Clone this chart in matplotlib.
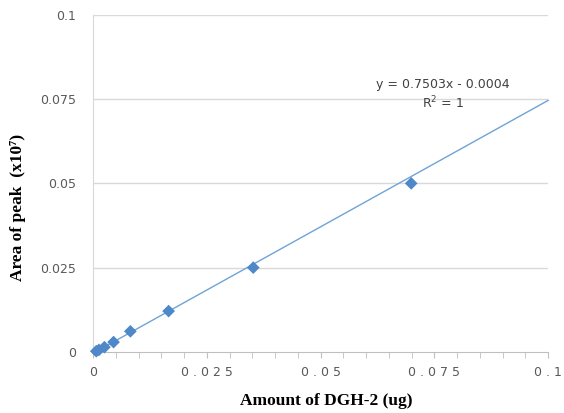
import matplotlib
matplotlib.use("Agg")
import matplotlib.pyplot as plt
import numpy as np

amount = [0.0007, 0.0013, 0.0025, 0.0045, 0.0082, 0.0166, 0.0352, 0.0699]
area = [0.0002, 0.0006, 0.0014, 0.0029, 0.0061, 0.0121, 0.0250, 0.0500]
slope, intercept = 0.7503, -0.0004
x_ticks = [0, 0.025, 0.05, 0.075, 0.1]
x_labels = ["0", "0 . 0 2 5", "0 . 0 5", "0 . 0 7 5", "0 . 1"]
y_ticks = [0, 0.025, 0.05, 0.075, 0.1]
y_labels = ["0", "0.025", "0.05", "0.075", "0.1"]

fig = plt.figure(figsize=(5.64, 4.13), dpi=100)
ax = fig.add_axes([0.165, 0.148, 0.807, 0.816])
ax.set_xlim(0, 0.1)
ax.set_ylim(0, 0.1)

for yv in y_ticks[1:]:
    ax.axhline(yv, color="#d9d9d9", lw=1, zorder=0)

xs = np.array([0, 0.1])
ax.plot(xs, slope * xs + intercept, color="#6fa3d6", lw=1, zorder=2, clip_on=False)
ax.scatter(amount, area, marker="D", s=42, color="#4f88c8", zorder=3, clip_on=False, edgecolors="none")

for s in ["top", "right"]:
    ax.spines[s].set_visible(False)
ax.spines["left"].set_color("#d9d9d9")
ax.spines["bottom"].set_color("#bfbfbf")

ax.set_xticks(x_ticks)
ax.set_xticks(np.arange(0, 0.1001, 0.005), minor=True)
ax.set_xticklabels(x_labels, fontsize=9, color="#595959", family="DejaVu Sans")
ax.tick_params(axis="x", which="both", length=4, color="#bfbfbf", pad=6)
ax.set_yticks(y_ticks)
ax.set_yticklabels(y_labels, fontsize=9, color="#595959", family="DejaVu Sans")
ax.tick_params(axis="y", length=0, pad=12)

ax.set_xlabel("Amount of DGH-2 (ug)", family="Liberation Serif", fontweight="bold", fontsize=12.5)
ax.set_ylabel("Area of peak  (x10\u2077)", family="Liberation Serif", fontweight="bold", fontsize=12.5)
ax.xaxis.set_label_coords(0.513, -0.122)
ax.yaxis.set_label_coords(-0.148, 0.43)

ax.text(0.0769, 0.0792, "y = 0.7503x - 0.0004", fontsize=9, color="#404040", ha="center", va="center")
ax.text(0.0769, 0.0738, "R$^{2}$ = 1", fontsize=9, color="#404040", ha="center", va="center")

fig.savefig("out.png", dpi=100)
